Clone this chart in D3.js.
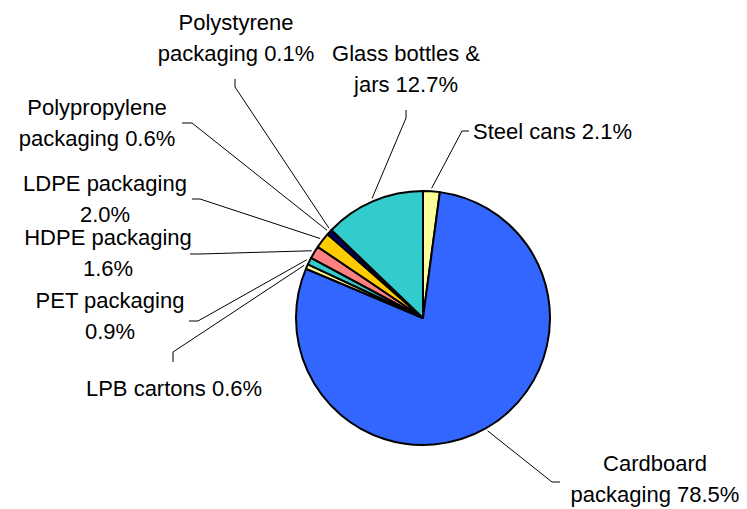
<!DOCTYPE html>
<html><head><meta charset="utf-8">
<script src="https://cdn.jsdelivr.net/npm/d3@7"></script>
<style>body{margin:0;background:#fff}text{font-family:"Liberation Sans",Arial,sans-serif;fill:#000}</style>
</head><body><svg id="c" width="747" height="509"></svg>
<script>
// Data
const categories = ["Steel cans","Cardboard packaging","LPB cartons","PET packaging","HDPE packaging","LDPE packaging","Polypropylene packaging","Polystyrene packaging","Glass bottles & jars"];
const values = [2.1, 78.5, 0.6, 0.9, 1.6, 2.0, 0.6, 0.1, 12.7];
const labelLines = [
  ["Steel cans 2.1%"],
  ["Cardboard","packaging 78.5%"],
  ["LPB cartons 0.6%"],
  ["PET packaging","0.9%"],
  ["HDPE packaging","1.6%"],
  ["LDPE packaging","2.0%"],
  ["Polypropylene","packaging 0.6%"],
  ["Polystyrene","packaging 0.1%"],
  ["Glass bottles &","jars 12.7%"]
];
const colors = ["#FFFF99","#3366FF","#FFFF99","#33CCCC","#FF8080","#FFCC00","#000080","#800080","#33CCCC"];

// Layout (label positions, elbows)
const layout = [
  {tx:473, ty:131, anchor:"start", elbow:[[469,131],[462,131]]},
  {tx:655, ty:463, anchor:"middle", elbow:[[560,482],[552,482]]},
  {tx:174, ty:388, anchor:"middle", elbow:[[173,362],[173,352]]},
  {tx:110, ty:300, anchor:"middle", elbow:[[189,321],[198,321]]},
  {tx:108, ty:237, anchor:"middle", elbow:[[190,254],[200,254]]},
  {tx:105, ty:183, anchor:"middle", elbow:[[192,199],[200,199]]},
  {tx:97, ty:107, anchor:"middle", elbow:[[182,123],[192,123]]},
  {tx:236, ty:22, anchor:"middle", elbow:[[235,79],[235,87]]},
  {tx:406, ty:53, anchor:"middle", elbow:[[406,110],[406,118]]}
];
const cx = 423, cy = 318, R = 127, lh = 31;
const svg = d3.select("#c");
const data = categories.map((c,i)=>({c, v:values[i], i}));
const pie = d3.pie().value(d=>d.v).sort(null).startAngle(0).endAngle(2*Math.PI);
const arcs = pie(data);
const arc = d3.arc().innerRadius(0).outerRadius(R);
const g = svg.append("g").attr("transform",`translate(${cx},${cy})`);
g.selectAll("path").data(arcs).join("path")
  .attr("d",arc).attr("fill",d=>colors[d.data.i])
  .attr("stroke","#000").attr("stroke-width",2).attr("stroke-linejoin","round");

arcs.forEach((a,k)=>{
  const L = layout[k];
  const m = (a.startAngle+a.endAngle)/2;
  const ex = cx + (R+3)*Math.sin(m), ey = cy - (R+3)*Math.cos(m);
  const pts = [L.elbow[0], L.elbow[1], [ex,ey]];
  svg.append("path").attr("d", d3.line()(pts)).attr("fill","none").attr("stroke","#000").attr("stroke-width",1);
  const t = svg.append("text").attr("text-anchor",L.anchor).attr("font-size",22);
  labelLines[k].forEach((s,j)=>{
    t.append("tspan").attr("x",L.tx).attr("y",L.ty + j*lh).attr("dy","0.35em").text(s);
  });
});
</script></body></html>
